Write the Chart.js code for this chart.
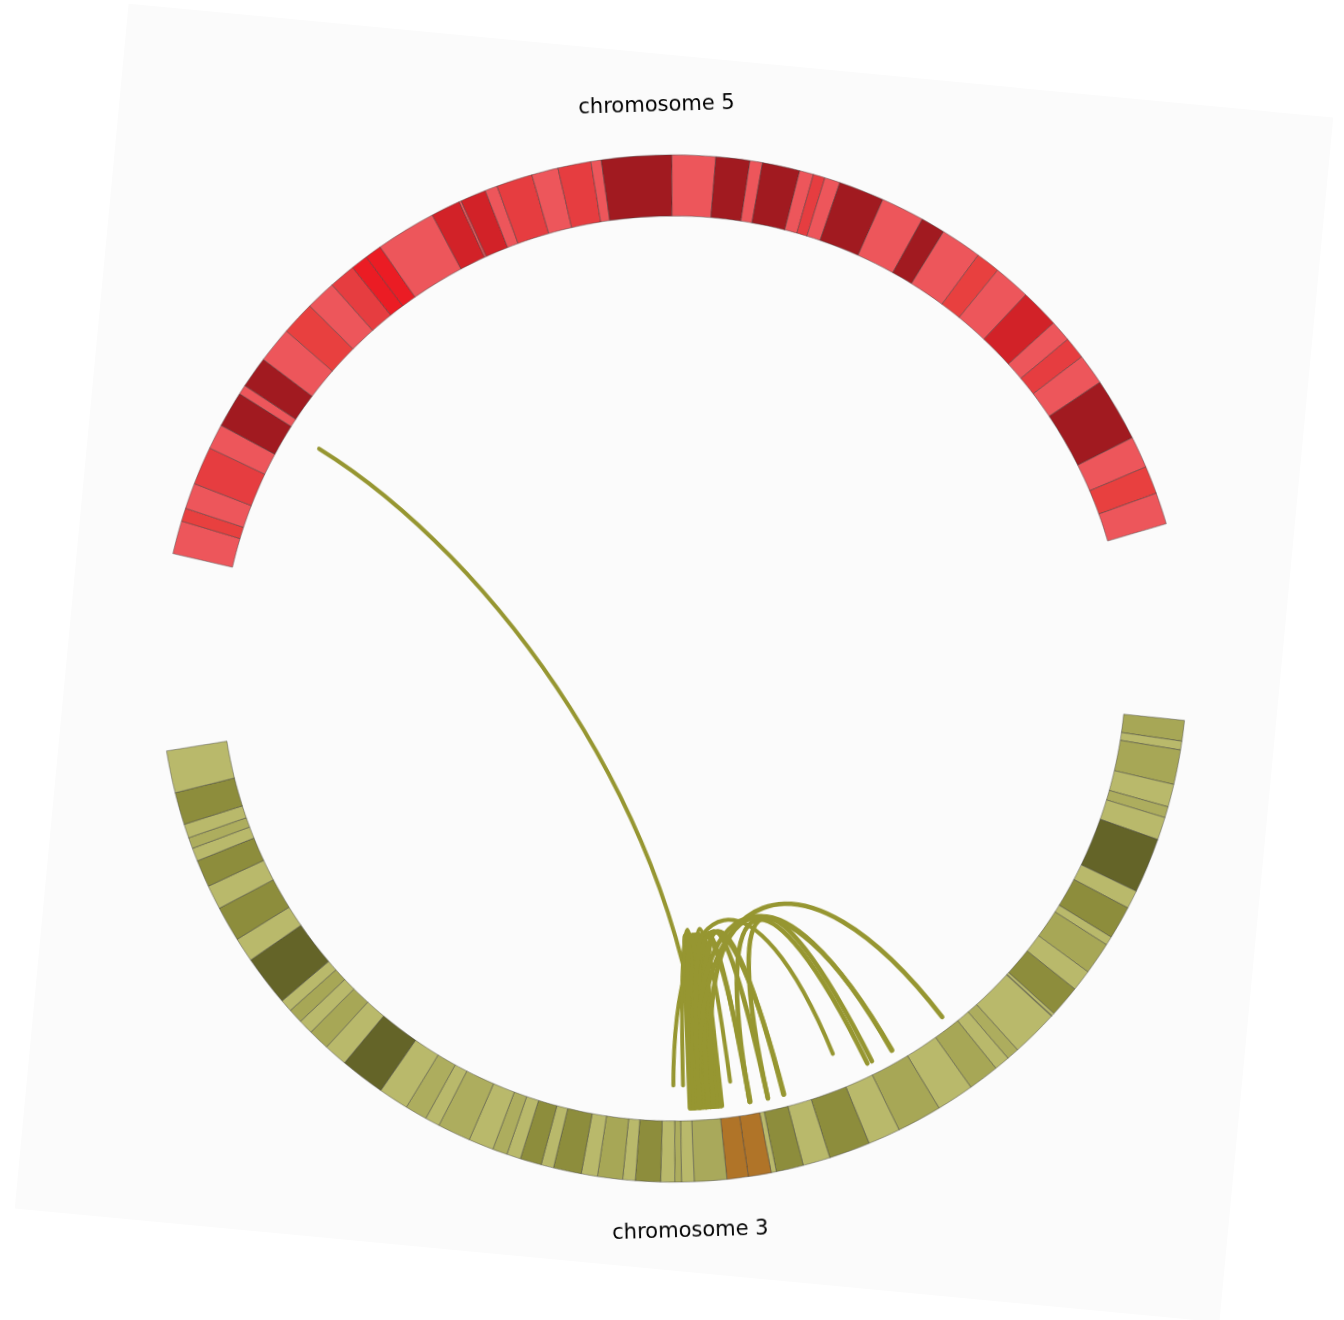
<!DOCTYPE html>
<html>
<head>
<meta charset="utf-8">
<title>chromosome 5 / chromosome 3</title>
<script src="https://cdn.jsdelivr.net/npm/chart.js@4.4.1/dist/chart.umd.min.js"></script>
<style>
  html, body { margin: 0; padding: 0; width: 1344px; height: 1320px; overflow: hidden; background: #ffffff; }
  #sheet { position: absolute; left: 68.5px; top: 58px; width: 1210px; height: 1210px; background: #fbfbfb; transform: rotate(5.4deg); }
  #wrap { position: absolute; left: 0; top: 0; width: 1344px; height: 1320px; transform-origin: 673.5px 668.5px; transform: rotate(-1.72deg); }
  canvas { display: block; }
</style>
</head>
<body>
<div id="sheet"></div>
<div id="wrap"><canvas id="circos" width="1344" height="1320"></canvas></div>
<script>
// ---- cytobands (Mb, band end positions) and stain classes ----
const chr5BandEnds = [4.5, 6.3, 9.8, 15.0, 18.4, 23.3, 24.6, 28.9, 33.8, 38.4, 42.5, 46.1, 48.4, 50.7,
  58.9, 62.9, 63.2, 66.7, 68.4, 73.3, 76.9, 81.4, 82.8, 92.3, 98.2, 102.8, 104.5, 109.6, 111.5, 113.1,
  115.2, 121.4, 127.3, 130.6, 136.2, 139.5, 144.5, 149.8, 152.7, 155.7, 159.9, 168.5, 172.8, 176.6, 180.9];
const chr5Stains = ['gneg','gpos25','gneg','gpos50','gneg','gpos100','gneg','gpos100','gneg','gpos25','gneg',
  'gpos50','acen','acen','gneg','gpos75','gneg','gpos75','gneg','gpos50','gneg','gpos50','gneg','gpos100',
  'gneg','gpos100','gneg','gpos100','gneg','gpos50','gneg','gpos100','gneg','gpos100','gneg','gpos25','gneg',
  'gpos75','gneg','gpos50','gneg','gpos100','gneg','gpos25','gneg'];

const chr3BandEnds = [2.8, 4.0, 8.7, 11.8, 13.3, 16.4, 23.9, 26.4, 30.9, 32.1, 36.5, 39.4, 43.7, 44.1, 44.2,
  50.6, 52.3, 54.4, 58.6, 63.7, 69.8, 74.2, 79.8, 83.5, 87.2, 87.9, 91.0, 93.9, 98.3, 100.0, 100.9, 102.8,
  106.2, 107.9, 111.3, 113.5, 117.3, 119.0, 121.9, 123.8, 125.8, 129.2, 133.7, 135.7, 138.7, 142.8, 148.9,
  152.1, 155.0, 157.0, 159.0, 160.7, 167.6, 170.9, 175.7, 179.0, 182.7, 184.5, 186.0, 187.9, 192.3, 198.02];
const chr3Stains = ['gpos50','gneg','gpos50','gneg','gpos25','gneg','gpos100','gneg','gpos75','gneg','gpos50',
  'gneg','gpos75','gneg','gpos50','gneg','gpos25','gneg','gpos50','gneg','gpos50','gneg','gpos75','gneg',
  'gpos75','gneg','acen','acen','gvar','gneg','gpos25','gneg','gpos75','gneg','gpos50','gneg','gpos75','gneg',
  'gpos75','gneg','gpos25','gneg','gpos25','gneg','gpos25','gneg','gpos100','gneg','gpos50','gneg','gpos50',
  'gneg','gpos100','gneg','gpos75','gneg','gpos75','gneg','gpos25','gneg','gpos75','gneg'];

const chromosomes = ['5', '3'];
const chromosomeLabels = ['chromosome 5', 'chromosome 3'];

// ---- links (chromosome, Mb); track 2 ends sit a little deeper inside the ring ----
const linkChromA = ['5','3','3','3',
                    '3','3','3','3','3','3','3','3','3','3','3','3','3','3',
                    '3','3','3','3','3','3','3','3','3','3'];
const linkPosA   = [22.65, 101.1, 99.5, 91.7,
                    93.6, 94.1, 94.6, 95.3, 95.8, 93.9, 94.4, 96.3, 93.5, 97.8, 94.9, 96.8, 93.7, 95.1,
                    95.0, 94.3, 95.6, 97.8, 89.1, 86.2, 94.8, 97.4, 96.9, 97.0];
const linkChromB = ['3','3','3','3',
                    '3','3','3','3','3','3','3','3','3','3','3','3','3','3',
                    '3','3','3','3','3','3','3','3','3','3'];
const linkPosB   = [96.3, 74.1, 95.4, 96.7,
                    95.2, 96.8, 97.6, 98.4, 97.1, 98.0, 95.9, 98.2, 94.0, 98.5, 96.0, 97.9, 96.5, 98.3,
                    89.1, 86.2, 83.7, 83.6, 69.7, 68.9, 65.4, 65.3, 55.9, 89.0];
const linkTrack  = [2, 2, 2, 2,
                    1, 1, 1, 1, 1, 1, 1, 1, 1, 1, 1, 1, 1, 1,
                    1, 1, 1, 1, 1, 1, 1, 1, 1, 1];

// ---- styling ----
const STAIN_COLORS = {
  '5': { gneg: '#ed565b', gpos25: '#e8403f', gpos50: '#e63d40', gpos75: '#d22228', gpos100: '#a11a20', acen: '#eb1c24', gvar: '#e63d40' },
  '3': { gneg: '#b9b96b', gpos25: '#adad5e', gpos50: '#a7a756', gpos75: '#8d8d3c', gpos100: '#646428', acen: '#b07428', gvar: '#a9a95b' }
};
const GAP_DEG = 22.17;          // empty wedge between the two chromosomes
const ROTATION_DEG = 284.65;    // where chromosome 5 begins
const INNER_RADIUS = 452.5;
const LINK_COLOR = '#969631';
const TRACK_INSET = { 1: 12.5, 2: 35.5 };
const TRACK_WIDTH = { 1: 4.6, 2: 4.0 };
// control points as a share of the inner radius, for the first and second end
const CREST = { intra: [0.464, 0.464], inter: [0.464, 0.33] };
const LABEL_GAP = 49.5;

// ---- build the ring ----
const bands = { '5': { ends: chr5BandEnds, stains: chr5Stains }, '3': { ends: chr3BandEnds, stains: chr3Stains } };
const slices = [];
chromosomes.forEach(c => {
  let s = 0;
  bands[c].ends.forEach((e, i) => { slices.push({ chrom: c, start: s, end: e, stain: bands[c].stains[i] }); s = e; });
  slices.push({ gap: true });
});
const genomeLen = chromosomes.reduce((a, c) => a + bands[c].ends[bands[c].ends.length - 1], 0);
const gapValue = GAP_DEG * genomeLen / (360 - 2 * GAP_DEG);

const values = slices.map(s => s.gap ? gapValue : +(s.end - s.start).toFixed(3));
const fills = slices.map(s => s.gap ? 'rgba(0,0,0,0)' : STAIN_COLORS[s.chrom][s.stain]);
const strokes = slices.map(s => s.gap ? 'rgba(0,0,0,0)' : 'rgba(55,55,55,0.55)');
const strokeW = slices.map(s => s.gap ? 0 : 0.8);

function arcOf(meta, chrom, pos) {
  for (let i = 0; i < slices.length; i++) {
    const s = slices[i];
    if (!s.gap && s.chrom === chrom && pos >= s.start && pos <= s.end) {
      const a = meta.data[i];
      return { arc: a, angle: a.startAngle + (pos - s.start) / (s.end - s.start) * (a.endAngle - a.startAngle) };
    }
  }
  return null;
}

const linkPlugin = {
  id: 'links',
  afterDatasetsDraw(chart) {
    const meta = chart.getDatasetMeta(0);
    const g = chart.ctx;
    g.save();
    g.strokeStyle = LINK_COLOR;
    g.lineCap = 'round';
    g.lineJoin = 'round';
    for (let k = 0; k < linkPosA.length; k++) {
      const A = arcOf(meta, linkChromA[k], linkPosA[k]);
      const B = arcOf(meta, linkChromB[k], linkPosB[k]);
      if (!A || !B) continue;
      const cx = A.arc.x, cy = A.arc.y, rin = A.arc.innerRadius;
      const rEnd = rin - TRACK_INSET[linkTrack[k]];
      const crest = linkChromA[k] === linkChromB[k] ? CREST.intra : CREST.inter;
      const pt = (ang, r) => [cx + r * Math.cos(ang), cy + r * Math.sin(ang)];
      const p0 = pt(A.angle, rEnd), c0 = pt(A.angle, rin * crest[0]);
      const c1 = pt(B.angle, rin * crest[1]), p1 = pt(B.angle, rEnd);
      g.lineWidth = TRACK_WIDTH[linkTrack[k]];
      g.beginPath();
      g.moveTo(p0[0], p0[1]);
      g.bezierCurveTo(c0[0], c0[1], c1[0], c1[1], p1[0], p1[1]);
      g.stroke();
    }
    g.restore();
  }
};

const labelPlugin = {
  id: 'chromLabels',
  afterDraw(chart) {
    const meta = chart.getDatasetMeta(0);
    const g = chart.ctx;
    g.save();
    g.fillStyle = '#000000';
    g.font = '21px "DejaVu Sans", sans-serif';
    g.textAlign = 'center';
    g.textBaseline = 'middle';
    chromosomes.forEach((c, ci) => {
      const idx = slices.map((s, i) => (!s.gap && s.chrom === c) ? i : -1).filter(i => i >= 0);
      const first = meta.data[idx[0]], last = meta.data[idx[idx.length - 1]];
      const mid = (first.startAngle + last.endAngle) / 2;
      const r = first.outerRadius + LABEL_GAP;
      g.fillText(chromosomeLabels[ci], first.x + r * Math.cos(mid), first.y + r * Math.sin(mid));
    });
    g.restore();
  }
};

new Chart(document.getElementById('circos'), {
  type: 'doughnut',
  data: {
    labels: slices.map(s => s.gap ? '' : 'chr' + s.chrom + ':' + s.start + '-' + s.end),
    datasets: [{
      data: values,
      backgroundColor: fills,
      borderColor: strokes,
      borderWidth: strokeW,
      borderAlign: 'center',
      hoverOffset: 0,
      offset: 0,
      spacing: 0
    }]
  },
  options: {
    responsive: false,
    animation: false,
    devicePixelRatio: 1,
    events: [],
    rotation: ROTATION_DEG,
    circumference: 360,
    cutout: INNER_RADIUS,
    layout: { padding: { left: 159.5, right: 156.5, top: 154.5, bottom: 137.5 } },
    plugins: { legend: { display: false }, tooltip: { enabled: false }, title: { display: false } }
  },
  plugins: [linkPlugin, labelPlugin]
});
</script>
</body>
</html>
